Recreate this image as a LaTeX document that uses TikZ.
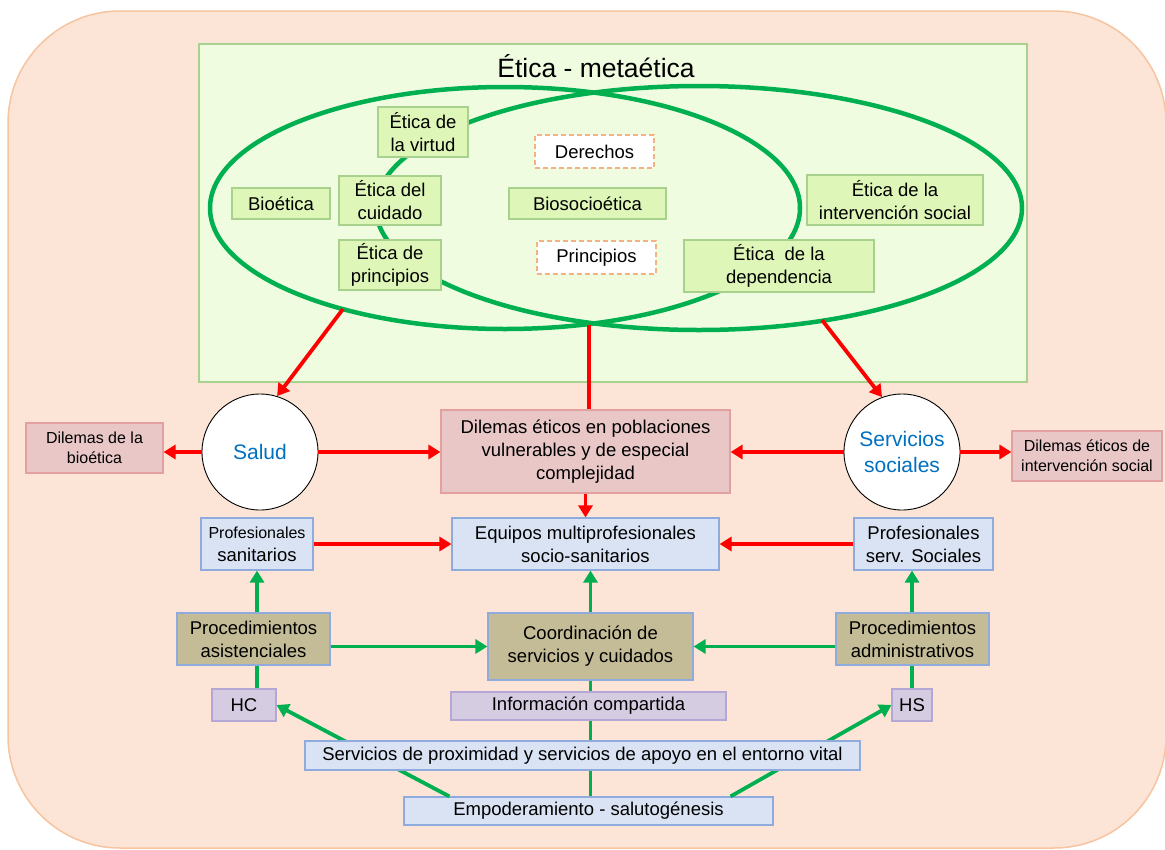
\documentclass[tikz,border=0pt]{standalone}
\usepackage{fontspec}
\setmainfont{Liberation Sans}
\usetikzlibrary{arrows.meta}

\definecolor{peachfill}{RGB}{252,229,214}
\definecolor{peachedge}{RGB}{247,196,160}
\definecolor{metafill}{RGB}{240,252,224}
\definecolor{metaedge}{RGB}{169,209,142}
\definecolor{limefill}{RGB}{222,246,183}
\definecolor{vennline}{RGB}{0,176,80}
\definecolor{dashedge}{RGB}{244,177,131}
\definecolor{arrowred}{RGB}{255,0,0}
\definecolor{rosefill}{RGB}{233,199,199}
\definecolor{roseedge}{RGB}{226,160,160}
\definecolor{bluefill}{RGB}{218,227,243}
\definecolor{blueedge}{RGB}{143,170,220}
\definecolor{tanfill}{RGB}{196,188,150}
\definecolor{lilacfill}{RGB}{214,204,226}
\definecolor{lilacedge}{RGB}{180,167,214}
\definecolor{circletext}{RGB}{0,112,192}

\newcommand{\bigtxt}{\fontsize{18.5}{23}\selectfont}
\newcommand{\smalltxt}{\fontsize{16}{20}\selectfont}

\tikzset{
	every node/.style={align=center, inner sep=0pt},
	sz/.style 2 args={minimum width=#1pt, minimum height=#2pt},
	plainbox/.style={draw, line width=1.1pt, text=black, font=\bigtxt},
	limebox/.style={plainbox, draw=metaedge, fill=limefill},
	dashbox/.style={plainbox, draw=dashedge, fill=white, dash pattern=on 5pt off 3pt},
	rosebox/.style={plainbox, draw=roseedge, fill=rosefill},
	bluebox/.style={plainbox, draw=blueedge, fill=bluefill},
	tanbox/.style={plainbox, draw=blueedge, fill=tanfill},
	lilacbox/.style={plainbox, draw=lilacedge, fill=lilacfill},
	sector/.style={circle, draw=black, line width=0.9pt, fill=white, minimum size=116pt, text=circletext, font=\fontsize{21}{26}\selectfont},
	redline/.style={draw=arrowred, line width=3.8pt},
	redarrow/.style={redline, -{Triangle[length=12pt,width=14pt]}},
	greenline/.style={draw=vennline, line width=3.8pt},
	greenarrow/.style={greenline, -{Triangle[length=12pt,width=14pt]}},
}

\begin{document}
\begin{tikzpicture}[x=1pt, y=-1pt]
			%%%%% BACKGROUND %%%%%
			
			\useasboundingbox (0,0) rectangle (1165,849);
			\draw[fill=peachfill, draw=peachedge, line width=1.5pt, rounded corners=112pt] (8,11) rectangle (1166,848);
			\draw[fill=metafill, draw=metaedge, line width=1.2pt] (199,44) rectangle (1027,382);
			
			\node[font=\fontsize{26.5}{30}\selectfont] (title) at (596,66) {Ética - metaética};
			
			\draw[vennline, line width=4.5pt] (505,208) ellipse [x radius=295pt, y radius=121pt];
			\draw[vennline, line width=4.5pt] (699,208) ellipse [x radius=323pt, y radius=122pt];
			\coordinate (leftfoot) at (343,309);
			\coordinate (midfoot) at (589,325);
			\coordinate (rightfoot) at (822,320);
			
			%%%%% ETHICS %%%%%
			
			\node[limebox, sz={90}{50}] (virtud) at (423,132) {Ética de\\la virtud};
			\node[limebox, sz={98}{31}] (bioetica) at (281,203.5) {Bioética};
			\node[limebox, sz={102}{49}] (cuidado) at (390,200.5) {Ética del\\cuidado};
			\node[limebox, sz={102}{50}] (eprincipios) at (390,265) {Ética de\\principios};
			\node[dashbox, sz={119}{33}] (derechos) at (594.5,151.5) {Derechos};
			\node[limebox, sz={157}{31}] (biosocio) at (587.5,203.5) {Biosocioética};
			\node[dashbox, sz={119}{33}] (principios) at (596.5,257.5) {Principios};
			\node[limebox, sz={176}{50}] (intervencion) at (895,200) {Ética de la\\intervención social};
			\node[limebox, sz={190}{52}] (dependencia) at (779,266) {Ética~ de la\\dependencia};
			
			%%%%% SECTORS %%%%%
			
			\node[sector] (salud) at (260,452) {Salud};
			\node[sector] (sociales) at (902,452) {Servicios\\sociales};
			\node[rosebox, sz={137}{50}, font=\smalltxt] (bioDilema) at (94.5,448) {Dilemas de la\\bioética};
			\node[rosebox, sz={289}{83}] (dilemas) at (585.5,451.5) {Dilemas éticos en poblaciones\\vulnerables y de especial\\complejidad};
			\node[rosebox, sz={150}{50}, font=\smalltxt] (socDilema) at (1087,456) {Dilemas éticos de\\intervención social};
			
			\node[bluebox, sz={112}{52}] (profSan) at (257,544) {{\smalltxt Profesionales}\\sanitarios};
			\node[bluebox, sz={267}{52}] (equipos) at (585.5,544) {Equipos multiprofesionales\\socio-sanitarios};
			\node[bluebox, sz={139}{52}] (profSoc) at (923.5,544) {Profesionales\\serv. Sociales};
			
			\node[tanbox, sz={153}{52}] (procAsis) at (253.5,639) {Procedimientos\\asistenciales};
			\node[tanbox, sz={205}{67}] (coord) at (590.5,646.5) {Coordinación de\\servicios y cuidados};
			\node[tanbox, sz={153}{52}] (procAdm) at (912.5,639) {Procedimientos\\administrativos};
			
			\node[lilacbox, sz={64}{32}] (hc) at (244,705) {HC};
			\node[lilacbox, sz={275}{28}] (info) at (588.5,706) {Información compartida};
			\node[lilacbox, sz={40}{32}] (hs) at (912,705) {HS};
			\node[bluebox, sz={369}{28}] (empod) at (588.5,811) {Empoderamiento - salutogénesis};
			
			%%%%% RED %%%%%
			
			\draw[redarrow] (leftfoot) -- (salud.73);
			\draw[redline] (midfoot) -- (midfoot |- dilemas.north);
			\draw[redarrow] (rightfoot) -- (sociales.110);
			\draw[redarrow] (salud.west) -- (salud.west -| bioDilema.east);
			\draw[redarrow] (salud.east) -- (salud.east -| dilemas.west);
			\draw[redarrow] (sociales.west) -- (sociales.west -| dilemas.east);
			\draw[redarrow] (sociales.east) -- (sociales.east -| socDilema.west);
			\draw[redarrow] (dilemas) -- (equipos);
			\draw[redarrow] (profSan) -- (equipos);
			\draw[redarrow] (profSoc) -- (equipos);
			
			%%%%% GREEN %%%%%
			
			\draw[greenarrow] (profSan |- procAsis.north) -- (profSan.south);
			\draw[greenline] (profSan |- hc.north) -- (profSan |- procAsis.south);
			\draw[greenarrow] (procAsis.east |- coord) -- (coord.west);
			\draw[greenarrow] (procAdm.west |- coord) -- (coord.east);
			\draw[greenarrow] (hs |- procAdm.north) -- (hs |- profSoc.south);
			\draw[greenline] (hs.north) -- (hs |- procAdm.south);
			\draw[greenarrow] (coord.north) -- (coord.north |- equipos.south);
			\draw[greenarrow] ([xshift=46pt]empod.north west) -- (hc.east);
			\draw[greenarrow] ([xshift=-43pt]empod.north east) -- (hs.west);
			
			\node[bluebox, sz={555}{29}] (proximidad) at (582.5,755.5) {Servicios de proximidad y servicios de apoyo en el entorno vital};
			
			\draw[greenline] (coord.south) -- (coord.south |- info.north);
			\draw[greenline] (coord.south |- info.south) -- (coord.south |- proximidad.north);
			\draw[greenline] (coord.south |- proximidad.south) -- (coord.south |- empod.north);
			
			%%%%% DONE %%%%%
\end{tikzpicture}
\end{document}
